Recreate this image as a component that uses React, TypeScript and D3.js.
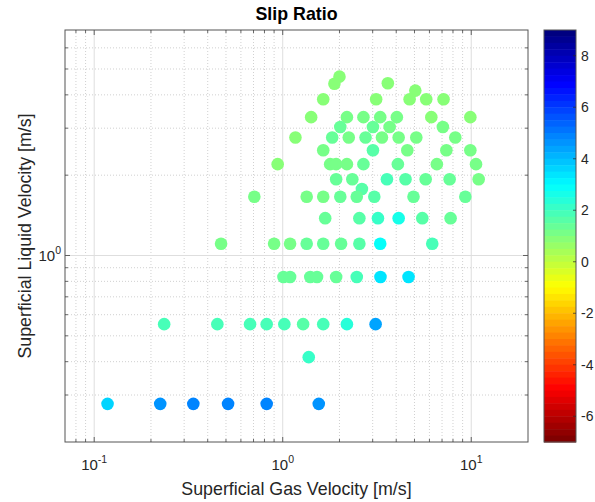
import React from "react";
import * as d3 from "d3";

// superficial gas velocity [m/s]
const gasVelocity = [
  2.0, 1.88, 3.61, 5.05,
  1.64, 3.13, 4.71, 5.77, 7.13,
  1.415, 2.19, 2.68, 3.29, 4.03, 6.14, 9.89,
  2.02, 3.01, 3.69, 7.07,
  1.168, 1.83, 2.24, 2.75, 3.36, 4.12, 5.11, 8.23,
  1.64, 3.01, 4.58, 7.38, 9.89,
  0.94, 1.785, 1.92, 2.19, 2.68, 4.08, 6.57, 10.6,
  1.92, 2.34, 3.57, 4.48, 5.73, 7.68, 10.95,
  2.63,
  0.707, 1.34, 1.64, 2.02, 2.47, 3.06, 4.94, 9.3,
  1.68, 2.55, 3.2, 4.12, 5.5, 7.77,
  0.471, 0.9, 1.094, 1.34, 1.64, 2.04, 2.55, 3.29, 6.21,
  1.009, 1.094, 1.4, 1.52, 1.92, 2.47, 3.3, 4.65,
  0.235, 0.45, 0.671, 0.822, 1.02, 1.283, 1.64, 2.19, 3.11,
  1.374,
  0.1177, 0.224, 0.3356, 0.513, 0.822, 1.553,
];

// superficial liquid velocity [m/s]
const liquidVelocity = [
  4.68, 4.4, 4.42, 4.15,
  3.85, 3.85, 3.85, 3.85, 3.85,
  3.3, 3.3, 3.3, 3.3, 3.3, 3.3, 3.3,
  3.03, 3.03, 3.03, 3.03,
  2.77, 2.77, 2.77, 2.77, 2.77, 2.77, 2.77, 2.77,
  2.48, 2.48, 2.48, 2.48, 2.48,
  2.2, 2.2, 2.2, 2.2, 2.2, 2.2, 2.2, 2.2,
  1.93, 1.93, 1.93, 1.93, 1.93, 1.93, 1.93,
  1.774,
  1.66, 1.66, 1.66, 1.66, 1.66, 1.66, 1.66, 1.66,
  1.38, 1.38, 1.38, 1.38, 1.38, 1.38,
  1.106, 1.106, 1.106, 1.106, 1.106, 1.106, 1.106, 1.106, 1.106,
  0.831, 0.831, 0.831, 0.831, 0.831, 0.831, 0.831, 0.831,
  0.553, 0.553, 0.553, 0.553, 0.553, 0.553, 0.553, 0.553, 0.553,
  0.416,
  0.278, 0.278, 0.278, 0.278, 0.278, 0.278,
];

const slipRatio = [
  1.0, 1.0, 1.0, 1.0,
  1.0, 1.0, 1.0, 1.0, 1.0,
  1.0, 1.1, 1.1, 1.15, 1.1, 1.0, 1.0,
  1.3, 1.3, 1.2, 1.1,
  1.0, 1.3, 1.2, 1.3, 1.2, 1.2, 1.2, 1.1,
  1.2, 1.6, 1.2, 1.2, 1.2,
  1.0, 1.2, 1.2, 1.2, 1.3, 1.3, 1.2, 1.2,
  1.3, 1.4, 1.8, 1.6, 1.4, 1.3, 1.2,
  1.7,
  1.1, 1.2, 1.2, 1.3, 1.5, 1.7, 1.5, 1.3,
  1.5, 1.7, 2.2, 2.6, 1.7, 1.4,
  1.1, 1.2, 1.2, 1.3, 1.3, 1.3, 1.7, 2.9, 1.8,
  1.3, 1.3, 1.4, 1.4, 1.5, 1.8, 3.5, 3.5,
  2.0, 1.9, 2.0, 2.0, 1.9, 1.7, 1.9, 2.5, 4.4,
  2.1,
  3.6, 4.6, 4.9, 4.9, 4.9, 4.7,
];

const xMajor = [0.1, 1, 10];
const xExp = ["-1", "0", "1"];
const yMajor = [1];
const yExp = ["0"];
const cbTicks = [-6, -4, -2, 0, 2, 4, 6, 8];

const W = 595, H = 502;
const L = 65, R = 528, T = 30, B = 442;
const cbL = 544, cbR = 576;
const font = "'Liberation Sans', Arial, sans-serif";
const ink = "#262626";

// MATLAB jet, 64 levels
function jet(t: number) {
  const n = 64;
  const i = Math.max(0, Math.min(n - 1, Math.floor(t * n)));
  const q = i / (n - 1);
  const c = (v: number) => Math.round(255 * Math.max(0, Math.min(1, v)));
  return `rgb(${c(1.5 - Math.abs(4 * q - 3))},${c(1.5 - Math.abs(4 * q - 2))},${c(1.5 - Math.abs(4 * q - 1))})`;
}

export default function App() {
  const x = d3.scaleLog().domain([0.07, 20]).range([L, R]);
  const y = d3.scaleLog().domain([0.2, 7]).range([B, T]);
  const cb = d3.scaleLinear().domain([-7, 9]).range([B, T]);
  const color = (v: number) => jet((9 - v) / 16);

  const xAll = x.ticks().filter(v => v > 0.07 && v < 20);
  const xMinor = xAll.filter(v => !xMajor.includes(v));
  const yAll = y.ticks().filter(v => v > 0.2 && v < 7);
  const yMinor = yAll.filter(v => !yMajor.includes(v));

  const bands = d3.range(64);
  const bh = (B - T) / 64;

  return (
    <svg width={W} height={H} style={{ position: "absolute", left: 0, top: 0, background: "#fff" }} fontFamily={font}>
      <rect x={0} y={0} width={W} height={H} fill="#fff" />
      {/* minor grid */}
      {xMinor.map(v => (
        <line key={"gx" + v} x1={x(v)} x2={x(v)} y1={T} y2={B} stroke="#c4c4c4" strokeWidth={0.8} strokeDasharray="1,2" />
      ))}
      {yMinor.map(v => (
        <line key={"gy" + v} x1={L} x2={R} y1={y(v)} y2={y(v)} stroke="#c4c4c4" strokeWidth={0.8} strokeDasharray="1,2" />
      ))}
      {/* major grid */}
      {xMajor.map(v => (
        <line key={"Gx" + v} x1={x(v)} x2={x(v)} y1={T} y2={B} stroke="#dedede" strokeWidth={1} />
      ))}
      {yMajor.map(v => (
        <line key={"Gy" + v} x1={L} x2={R} y1={y(v)} y2={y(v)} stroke="#dedede" strokeWidth={1} />
      ))}

      {/* points */}
      {gasVelocity.map((g, i) => (
        <circle key={i} cx={x(g)} cy={y(liquidVelocity[i])} r={6.3} fill={color(slipRatio[i])} />
      ))}

      {/* ticks */}
      {xAll.map(v => {
        const len = xMajor.includes(v) ? 5 : 3;
        return (
          <g key={"tx" + v} stroke={ink} strokeWidth={0.7}>
            <line x1={x(v)} x2={x(v)} y1={B} y2={B - len} />
            <line x1={x(v)} x2={x(v)} y1={T} y2={T + len} />
          </g>
        );
      })}
      {yAll.map(v => {
        const len = yMajor.includes(v) ? 5 : 3;
        return (
          <g key={"ty" + v} stroke={ink} strokeWidth={0.7}>
            <line x1={L} x2={L + len} y1={y(v)} y2={y(v)} />
            <line x1={R} x2={R - len} y1={y(v)} y2={y(v)} />
          </g>
        );
      })}
      <rect x={L} y={T} width={R - L} height={B - T} fill="none" stroke="#555" strokeWidth={1} />

      {/* tick labels */}
      {xMajor.map((v, i) => (
        <text key={"lx" + v} x={x(v)} y={470} textAnchor="middle" fontSize={15} fill={ink}>
          10<tspan dy={-7} fontSize={10.5}>{xExp[i]}</tspan>
        </text>
      ))}
      {yMajor.map((v, i) => (
        <text key={"ly" + v} x={61} y={y(v) + 6} textAnchor="end" fontSize={15} fill={ink}>
          10<tspan dy={-7} fontSize={10.5}>{yExp[i]}</tspan>
        </text>
      ))}

      {/* labels */}
      <text x={(L + R) / 2} y={20} textAnchor="middle" fontSize={17.8} fontWeight="bold" fill="#000">Slip Ratio</text>
      <text x={(L + R) / 2} y={495} textAnchor="middle" fontSize={17.8} fill={ink}>Superficial Gas Velocity [m/s]</text>
      <text transform={`translate(31,${(T + B) / 2}) rotate(-90)`} textAnchor="middle" fontSize={17.8} fill={ink}>Superficial Liquid Velocity [m/s]</text>

      {/* colorbar */}
      {bands.map(i => (
        <rect key={"cb" + i} x={cbL} y={T + i * bh} width={cbR - cbL} height={bh + 0.5} fill={jet(i / 64)} />
      ))}
      <rect x={cbL} y={T} width={cbR - cbL} height={B - T} fill="none" stroke="#555" strokeWidth={1} />
      {cbTicks.map(v => (
        <g key={"cbt" + v}>
          <line x1={cbR} x2={cbR - 3} y1={cb(v)} y2={cb(v)} stroke={ink} strokeWidth={0.7} />
          <text x={581} y={cb(v) + 5} fontSize={14} fill={ink}>{v}</text>
        </g>
      ))}
    </svg>
  );
}
